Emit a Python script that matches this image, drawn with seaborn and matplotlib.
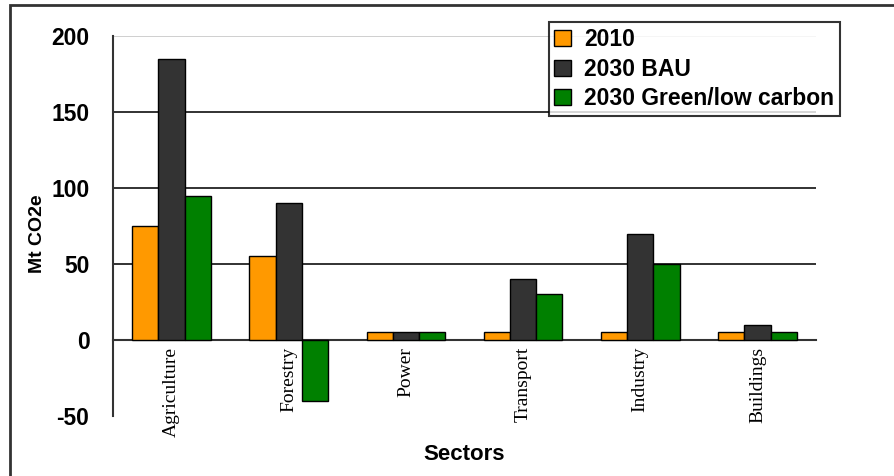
import matplotlib
matplotlib.use("Agg")
import matplotlib.pyplot as plt
import seaborn as sns
import pandas as pd
from matplotlib.patches import Rectangle

sectors = ["Agriculture", "Forestry", "Power", "Transport", "Industry", "Buildings"]
series = ["2010", "2030 BAU", "2030 Green/low carbon"]
v2010 = [75, 55, 5, 5, 5, 5]
v2030_bau = [185, 90, 5, 40, 70, 10]
v2030_green = [95, -40, 5, 30, 50, 5]
colors = ["#FF9900", "#333333", "#008000"]
yticks = [-50, 0, 50, 100, 150, 200]

rows = []
for name, vals in zip(series, [v2010, v2030_bau, v2030_green]):
    for s, v in zip(sectors, vals):
        rows.append({"Sector": s, "Series": name, "Value": v})
df = pd.DataFrame(rows)

sns.set_style("white")
plt.rcParams["font.family"] = ["Liberation Sans", "DejaVu Sans"]
for k in ["text.color", "axes.labelcolor", "xtick.color", "ytick.color"]:
    plt.rcParams[k] = "black"

fig = plt.figure(figsize=(8.95, 4.76), dpi=100)
ax = fig.add_axes([113/895, 60/476, 703/895, 380/476])

sns.barplot(data=df, x="Sector", y="Value", hue="Series", order=sectors,
            hue_order=series, palette=colors, width=0.67, saturation=1,
            edgecolor="black", linewidth=1, ax=ax, errorbar=None, zorder=3)

for side in ["top", "right"]:
    ax.spines[side].set_visible(False)
ax.spines["bottom"].set_position(("data", 0))
ax.spines["bottom"].set_color("#333333")
ax.spines["bottom"].set_linewidth(1.5)
ax.spines["left"].set_color("#333333")
ax.spines["left"].set_linewidth(1.5)

ax.set_ylim(-50, 200)
ax.set_xlim(-0.5, 5.5)
ax.set_yticks(yticks)
ax.set_yticklabels([str(t) for t in yticks], fontsize=16.5, fontweight="bold")
ax.yaxis.grid(True, color="#222222", linewidth=1.3, zorder=0)
gl = ax.get_ygridlines()
gl[-1].set_color("#cccccc")
gl[0].set_visible(False)
ax.set_axisbelow(True)

ax.set_xticks(range(len(sectors)))
ax.set_xticks([i - 0.5 for i in range(len(sectors) + 1)], minor=True)
ax.set_xticklabels(sectors, rotation=90, fontsize=14, family="Liberation Serif")
ax.tick_params(axis="x", which="major", length=0, pad=5)
ax.tick_params(axis="x", which="minor", length=6, width=1.3, color="#333333", direction="out")
ax.tick_params(axis="y", length=8, width=1.3, color="#333333", direction="out", pad=9)

ax.set_ylabel("Mt CO2e", fontsize=14, fontweight="bold")
ax.yaxis.set_label_coords(-0.096, 0.479)
ax.set_xlabel("Sectors", fontsize=16, fontweight="bold")
ax.xaxis.set_label_coords(0.5, -0.075)

leg = ax.legend(loc="upper right", bbox_to_anchor=(840/895, 1 - 22/476),
                bbox_transform=fig.transFigure, frameon=True, fancybox=False,
                edgecolor="black", prop={"weight": "bold", "size": 16.5},
                handlelength=0.7, handleheight=0.7, handletextpad=0.6,
                labelspacing=0.3, borderpad=0.25, borderaxespad=0)
leg.get_frame().set_linewidth(1.5)
leg.set_title(None)

fig.patches.append(Rectangle((10/895, -0.5), 2.0, 0.5 + 1 - 5/476, transform=fig.transFigure,
                             fill=False, edgecolor="#333333", linewidth=2))

fig.savefig("out.png", dpi=100)
